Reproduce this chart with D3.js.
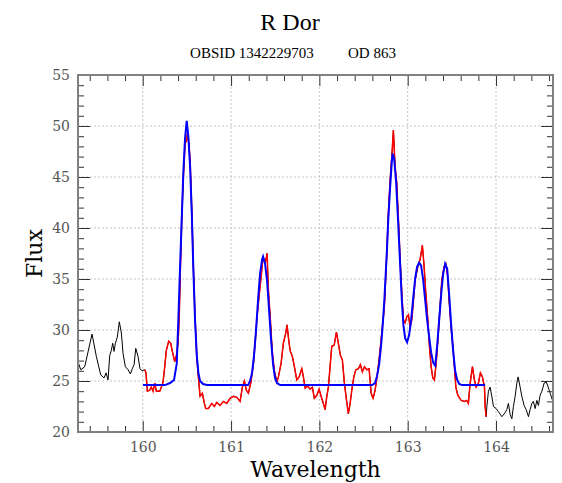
<!DOCTYPE html>
<html>
<head>
<meta charset="utf-8">
<script src="https://cdn.jsdelivr.net/npm/d3@7"></script>
<style>
  body { margin: 0; background: #fff; }
  svg { display: block; }
</style>
</head>
<body>
<div id="chart"></div>
<script>
// observed spectrum (black), red is the part inside the fit window
const wave = [159.267, 159.298, 159.343, 159.426, 159.475, 159.524, 159.562, 159.585, 159.607, 159.626,
  159.644, 159.660, 159.675, 159.690, 159.712, 159.735, 159.758, 159.777, 159.803, 159.834,
  159.860, 159.882, 159.902, 159.921, 159.947, 159.969, 159.992,
  160.023, 160.037, 160.052, 160.079, 160.097, 160.117, 160.136, 160.154, 160.193, 160.211,
  160.230, 160.249, 160.267, 160.294, 160.317, 160.335, 160.362, 160.381, 160.400, 160.414,
  160.426, 160.442, 160.460, 160.479, 160.498, 160.507, 160.516, 160.536, 160.555, 160.573,
  160.592, 160.612, 160.630, 160.649, 160.675, 160.698, 160.713, 160.743, 160.781, 160.811,
  160.838, 160.875, 160.913, 160.951, 160.989, 161.026, 161.065, 161.102, 161.128, 161.151,
  161.173, 161.196, 161.223, 161.253, 161.272, 161.294, 161.317, 161.340, 161.362, 161.385,
  161.408, 161.422, 161.445, 161.467, 161.490, 161.518, 161.536, 161.566, 161.592, 161.619,
  161.634, 161.649, 161.668, 161.694, 161.717, 161.744, 161.770, 161.801, 161.819, 161.838,
  161.869, 161.895, 161.921, 161.943, 161.971, 161.997, 162.019, 162.045, 162.065, 162.084,
  162.102, 162.121, 162.140, 162.167, 162.193, 162.215, 162.238, 162.260, 162.283, 162.306,
  162.328, 162.348, 162.367, 162.390, 162.412, 162.442, 162.464, 162.487, 162.510, 162.537,
  162.563, 162.586, 162.608, 162.631, 162.653, 162.676, 162.699, 162.721, 162.736, 162.763,
  162.781, 162.801, 162.820, 162.838, 162.857, 162.876, 162.895, 162.914, 162.933, 162.951,
  162.971, 162.990, 163.008, 163.027, 163.046, 163.065, 163.084, 163.114, 163.140, 163.166,
  163.186, 163.205, 163.228, 163.246, 163.265, 163.284, 163.302, 163.322, 163.341, 163.367,
  163.386, 163.412, 163.431, 163.454, 163.469, 163.491, 163.511, 163.529, 163.545, 163.567,
  163.605, 163.642, 163.669, 163.687, 163.707, 163.733, 163.755, 163.775, 163.801, 163.823,
  163.846, 163.869, 163.877, 163.888,
  163.896, 163.914, 163.933, 163.952, 163.971, 164.001, 164.027, 164.066, 164.103, 164.122,
  164.140, 164.160, 164.179, 164.197, 164.216, 164.236, 164.250, 164.273, 164.292, 164.318,
  164.341, 164.367, 164.386, 164.405, 164.423, 164.443, 164.462, 164.480, 164.499, 164.519,
  164.545, 164.568, 164.583, 164.613, 164.644];
const flux = [26.9, 26.1, 26.4, 29.6, 27.4, 25.6, 25.3, 25.8, 25.1, 27.5,
  28.0, 28.7, 27.9, 28.7, 29.3, 30.8, 29.7, 27.7, 26.4, 26.1,
  25.7, 26.2, 26.6, 28.2, 27.4, 26.2, 26.0,
  26.1, 25.8, 24.0, 24.1, 24.4, 24.0, 24.8, 24.0, 24.0, 24.4,
  24.9, 26.4, 28.0, 28.9, 28.7, 27.9, 26.9, 27.5, 28.7, 31.5,
  36.0, 41.1, 45.0, 48.3, 48.6, 49.4, 48.8, 46.7, 41.8, 36.2,
  31.3, 27.4, 25.4, 23.5, 23.8, 22.8, 22.3, 22.3, 22.8, 22.5,
  22.9, 22.6, 23.0, 22.8, 23.3, 23.5, 23.4, 23.0, 24.4, 25.0,
  24.1, 23.8, 24.8, 26.7, 28.7, 31.3, 33.3, 35.2, 37.2, 36.5,
  37.5, 34.0, 31.0, 27.8, 26.0, 24.9, 25.4, 26.7, 28.7, 29.7,
  30.5, 29.3, 28.0, 27.4, 26.4, 25.1, 25.4, 26.2, 25.4, 24.3,
  24.5, 24.2, 24.4, 23.3, 23.6, 24.2, 23.5, 22.8, 22.2, 23.5,
  24.4, 26.4, 28.4, 28.5, 29.8, 28.7, 27.5, 27.1, 24.8, 23.2,
  21.8, 22.8, 24.1, 25.4, 26.1, 26.2, 26.6, 25.9, 26.4, 26.1,
  26.2, 23.8, 23.3, 24.1, 25.4, 27.1, 29.0, 31.0, 32.3, 37.5,
  41.4, 44.7, 47.0, 49.6, 46.0, 44.4, 40.8, 36.9, 33.6, 31.0,
  30.7, 31.3, 31.5, 30.3, 31.0, 32.9, 34.9, 36.2, 36.9, 38.3,
  36.2, 33.6, 31.0, 28.4, 26.4, 25.3, 25.1, 26.7, 29.0, 32.3,
  34.9, 36.2, 36.5, 35.2, 32.9, 30.3, 28.4, 26.4, 24.4, 23.6,
  23.1, 23.0, 23.1, 22.8, 24.8, 26.4, 25.1, 24.4, 24.8, 25.8,
  25.4, 24.4, 22.5, 21.5,
  22.5, 24.0, 24.4, 23.5, 22.5, 22.3, 22.0, 21.5, 21.9, 22.2,
  22.8, 21.7, 21.3, 22.5, 23.5, 24.8, 25.4, 24.4, 23.5, 22.6,
  22.2, 21.5, 22.2, 22.8, 23.0, 22.3, 23.1, 22.6, 23.6, 24.0,
  24.8, 24.9, 24.6, 23.8, 23.0];
const fitStart = 160.0;
const fitEnd = 163.89;

// fitted model (blue)
const modelWave = [160.003, 160.253, 160.309, 160.354, 160.385, 160.403, 160.422, 160.442, 160.460, 160.479,
  160.498, 160.516, 160.536, 160.555, 160.573, 160.592, 160.612, 160.630, 160.649, 160.683,
  160.728, 161.193, 161.215, 161.238, 161.260, 161.283, 161.306, 161.328, 161.351, 161.362,
  161.385, 161.408, 161.430, 161.453, 161.476, 161.498, 161.521, 161.555, 162.597, 162.631,
  162.653, 162.676, 162.699, 162.721, 162.736, 162.763, 162.781, 162.801, 162.820, 162.829,
  162.846, 162.869, 162.892, 162.914, 162.933, 162.951, 162.971, 162.993, 163.016, 163.039,
  163.061, 163.084, 163.106, 163.129, 163.152, 163.174, 163.197, 163.220, 163.243, 163.265,
  163.288, 163.311, 163.333, 163.356, 163.379, 163.401, 163.424, 163.447, 163.469, 163.492,
  163.514, 163.537, 163.560, 163.583, 163.617, 163.877];
const modelFlux = [24.6, 24.6, 24.8, 25.1, 26.7, 31.0, 36.0, 41.0, 45.5, 48.8,
  50.5, 49.0, 46.0, 41.5, 36.0, 31.0, 27.5, 25.8, 25.0, 24.7,
  24.6, 24.6, 25.0, 25.8, 27.5, 30.0, 33.0, 35.5, 36.9, 37.2,
  36.5, 34.8, 32.0, 29.0, 26.6, 25.3, 24.8, 24.6, 24.6, 24.8,
  25.5, 26.6, 28.5, 31.0, 33.0, 37.5, 41.0, 44.0, 46.5, 47.3,
  46.8, 44.5, 40.5, 36.5, 33.0, 30.5, 29.2, 28.8, 29.5, 31.0,
  33.0, 35.0, 36.2, 36.6, 36.3, 35.0, 33.0, 31.0, 29.3, 27.8,
  26.8, 26.5, 28.4, 31.0, 33.5, 35.5, 36.5, 36.0, 33.5, 30.5,
  28.0, 26.0, 25.1, 24.7, 24.6, 24.6];

const xMajor = [160, 161, 162, 163, 164];
const yMajor = [20, 25, 30, 35, 40, 45, 50, 55];
const title = 'R Dor';
const subtitle = ['OBSID 1342229703', 'OD 863'];

const W = 562, H = 483;
const margin = { top: 75, right: 9, bottom: 51, left: 78 };
const width = W - margin.left - margin.right;
const height = H - margin.top - margin.bottom;

const svg = d3.select('#chart').append('svg')
  .attr('width', W)
  .attr('height', H);

const x = d3.scaleLinear().domain([159.267, 164.645]).range([0, width]);
const y = d3.scaleLinear().domain([20, 55]).range([height, 0]);

const xMinor = d3.range(159.4, 164.65, 0.2).filter(v => Math.abs(v - Math.round(v)) > 0.01);
const yMinor = d3.range(21, 55, 1).filter(v => v % 5 !== 0);

const g = svg.append('g').attr('transform', `translate(${margin.left},${margin.top})`);

svg.append('defs').append('clipPath').attr('id', 'clip')
  .append('rect').attr('width', width).attr('height', height);

// grid
g.append('g').selectAll('line').data(xMajor).join('line')
  .attr('x1', d => x(d)).attr('x2', d => x(d))
  .attr('y1', 0).attr('y2', height)
  .attr('stroke', '#c4c4c4').attr('stroke-dasharray', '2,2');
g.append('g').selectAll('line').data(yMajor.slice(1, -1)).join('line')
  .attr('x1', 0).attr('x2', width)
  .attr('y1', d => y(d)).attr('y2', d => y(d))
  .attr('stroke', '#c4c4c4').attr('stroke-dasharray', '2,2');

// lines
const line = d3.line().x(d => x(d[0])).y(d => y(d[1]));
const obs = wave.map((w, i) => [w, flux[i]]);
const fitObs = obs.filter(d => d[0] >= fitStart && d[0] <= fitEnd);
const model = modelWave.map((w, i) => [w, modelFlux[i]]);

const plot = g.append('g').attr('clip-path', 'url(#clip)');
plot.append('path').datum(obs).attr('d', line)
  .attr('fill', 'none').attr('stroke', '#000').attr('stroke-width', 1);
plot.append('path').datum(fitObs).attr('d', line)
  .attr('fill', 'none').attr('stroke', '#ff0000').attr('stroke-width', 1.5);
plot.append('path').datum(model).attr('d', line)
  .attr('fill', 'none').attr('stroke', '#0000ff').attr('stroke-width', 2);

// axes (ticks point inward)
function styleAxis(sel) {
  sel.select('.domain').remove();
  sel.selectAll('.tick line').attr('stroke', '#333');
  sel.selectAll('text').attr('fill', '#555')
    .style('font-family', '"DejaVu Serif", serif').style('font-size', '14px');
}

g.append('g').attr('transform', `translate(0,${height})`)
  .call(d3.axisBottom(x).tickValues(xMajor).tickSize(-11).tickPadding(10).tickFormat(d3.format('d')))
  .call(styleAxis);
g.append('g').attr('transform', `translate(0,${height})`)
  .call(d3.axisBottom(x).tickValues(xMinor).tickSize(-6).tickFormat(''))
  .call(styleAxis);
g.append('g')
  .call(d3.axisTop(x).tickValues(xMajor).tickSize(-11).tickFormat(''))
  .call(styleAxis);
g.append('g')
  .call(d3.axisTop(x).tickValues(xMinor).tickSize(-6).tickFormat(''))
  .call(styleAxis);

g.append('g')
  .call(d3.axisLeft(y).tickValues(yMajor).tickSize(-12).tickPadding(8).tickFormat(d3.format('d')))
  .call(styleAxis);
g.append('g')
  .call(d3.axisLeft(y).tickValues(yMinor).tickSize(-6).tickFormat(''))
  .call(styleAxis);
g.append('g').attr('transform', `translate(${width},0)`)
  .call(d3.axisRight(y).tickValues(yMajor).tickSize(-12).tickFormat(''))
  .call(styleAxis);
g.append('g').attr('transform', `translate(${width},0)`)
  .call(d3.axisRight(y).tickValues(yMinor).tickSize(-6).tickFormat(''))
  .call(styleAxis);

// frame
g.append('rect').attr('width', width).attr('height', height)
  .attr('fill', 'none').attr('stroke', '#808080').attr('stroke-width', 2);

// labels
svg.append('text')
  .attr('x', 290).attr('y', 30)
  .attr('text-anchor', 'middle')
  .style('font-family', '"Liberation Serif", serif').style('font-size', '24px')
  .text(title);

svg.append('text')
  .attr('x', 252).attr('y', 58)
  .attr('text-anchor', 'middle')
  .style('font-family', '"Liberation Serif", serif').style('font-size', '15px')
  .text(subtitle[0]);
svg.append('text')
  .attr('x', 372).attr('y', 58)
  .attr('text-anchor', 'middle')
  .style('font-family', '"Liberation Serif", serif').style('font-size', '15px')
  .text(subtitle[1]);

svg.append('text')
  .attr('x', margin.left + width / 2).attr('y', 477)
  .attr('text-anchor', 'middle')
  .style('font-family', '"DejaVu Serif", serif').style('font-size', '22px')
  .text('Wavelength');

svg.append('text')
  .attr('transform', `translate(42,${margin.top + height / 2}) rotate(-90)`)
  .attr('text-anchor', 'middle')
  .style('font-family', '"DejaVu Serif", serif').style('font-size', '22px')
  .text('Flux');
</script>
</body>
</html>
